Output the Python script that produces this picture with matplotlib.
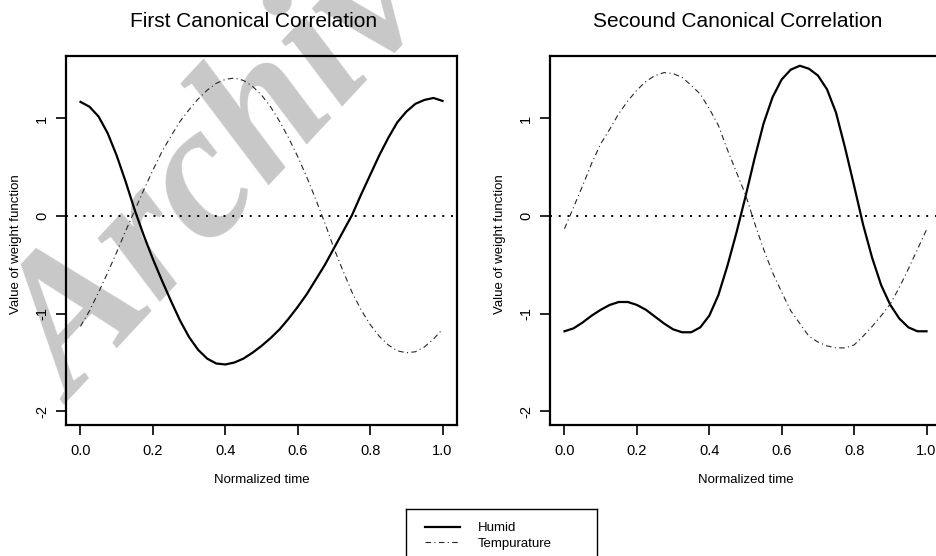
import numpy as np
import matplotlib
matplotlib.use('Agg')
import matplotlib.pyplot as plt

plt.rcParams['font.family'] = ['Liberation Sans', 'DejaVu Sans']
plt.rcParams['axes.unicode_minus'] = False

# normalized time grid (step 0.025)
t = np.linspace(0, 1, 41)

# first canonical correlation
humid1 = [1.17, 1.12, 1.02, 0.85, 0.62, 0.35, 0.06, -0.20, -0.44, -0.66,
          -0.87, -1.07, -1.24, -1.37, -1.46, -1.51, -1.52, -1.50, -1.46, -1.40,
          -1.33, -1.25, -1.16, -1.05, -0.93, -0.80, -0.65, -0.50, -0.33, -0.16,
          0.01, 0.22, 0.42, 0.62, 0.80, 0.96, 1.07, 1.15, 1.19, 1.21, 1.18]
temp1 = [-1.13, -0.97, -0.78, -0.58, -0.37, -0.15, 0.06, 0.27, 0.47, 0.66,
         0.82, 0.97, 1.09, 1.20, 1.29, 1.36, 1.40, 1.415, 1.39, 1.33,
         1.24, 1.12, 0.97, 0.80, 0.61, 0.40, 0.17, -0.07, -0.33, -0.56,
         -0.78, -0.96, -1.11, -1.23, -1.32, -1.38, -1.40, -1.39, -1.34, -1.26, -1.16]

# second canonical correlation
humid2 = [-1.18, -1.15, -1.09, -1.02, -0.96, -0.91, -0.88, -0.88, -0.91, -0.96,
          -1.03, -1.10, -1.16, -1.19, -1.19, -1.14, -1.02, -0.81, -0.51, -0.17,
          0.20, 0.59, 0.95, 1.22, 1.40, 1.50, 1.54, 1.51, 1.44, 1.30,
          1.06, 0.70, 0.31, -0.09, -0.43, -0.71, -0.91, -1.05, -1.14, -1.18, -1.18]
temp2 = [-0.13, 0.09, 0.31, 0.54, 0.74, 0.89, 1.05, 1.18, 1.29, 1.38,
         1.44, 1.47, 1.46, 1.42, 1.34, 1.25, 1.10, 0.93, 0.68, 0.45,
         0.22, -0.07, -0.34, -0.58, -0.78, -0.97, -1.10, -1.23, -1.29, -1.33,
         -1.35, -1.35, -1.32, -1.23, -1.13, -1.02, -0.90, -0.73, -0.54, -0.34, -0.14]

titles = ['First Canonical Correlation', 'Secound Canonical Correlation']
labels = ['Humid', 'Tempurature']
xticks = [0.0, 0.2, 0.4, 0.6, 0.8, 1.0]
yticks = [-2, -1, 0, 1]

fig = plt.figure(figsize=(9.37, 5.56), dpi=100)
fig.patch.set_facecolor('white')

# watermark
fig.text(74/937, 1 - 405/556, 'Archive', family='Liberation Serif', weight='bold',
         style='italic', fontsize=138, color='#c8c8c8', rotation=47,
         rotation_mode='anchor', ha='left', va='baseline', zorder=-1)

W, H = 391/937, 369/556
B = (556 - 425)/556
axes = [fig.add_axes([66/937, B, W, H]), fig.add_axes([550/937, B, W, H])]

for ax, title, hum, tmp in zip(axes, titles, [humid1, humid2], [temp1, temp2]):
    ax.set_facecolor('none')
    ax.plot(t, hum, color='black', lw=1.6, label=labels[0])
    ax.plot(t, tmp, color='0.15', lw=0.8, dashes=(5, 3, 1, 3), label=labels[1])
    ax.axhline(0, color='black', lw=1.4, ls=(0, (1, 3.5)))
    ax.set_xlim(-0.04, 1.04)
    ax.set_ylim(-2.14, 1.64)
    ax.set_xticks(xticks)
    ax.set_xticklabels(['%.1f' % v for v in xticks])
    ax.set_yticks(yticks)
    ax.set_yticklabels([str(v) for v in yticks], rotation=90, va='center')
    ax.tick_params(direction='out', length=7, width=1.2, labelsize=10.5)
    ax.tick_params(axis='x', pad=7)
    ax.tick_params(axis='y', pad=5)
    for s in ax.spines.values():
        s.set_linewidth(1.6)
    ax.set_title(title, fontsize=15, x=(254 - 66)/391, pad=21)
    ax.set_xlabel('Normalized time', fontsize=9.5, labelpad=11)
    ax.set_ylabel('Value of weight function', fontsize=9.5)
    ax.yaxis.label.set_va('center')
    ax.yaxis.set_label_coords(-(66 - 16)/391, 0.49)

# legend box
lax = fig.add_axes([406/937, -6/556, 191/937, 53/556])
lax.set_facecolor('white')
lax.set_xticks([])
lax.set_yticks([])
for s in lax.spines.values():
    s.set_linewidth(1.0)
lax.legend(axes[0].lines[:2], labels, loc='upper left',
           bbox_to_anchor=((425 - 406)/191, (562 - 522)/53), frameon=False,
           borderpad=0, borderaxespad=0, handlelength=35/13.2,
           handletextpad=18/13.2, labelspacing=0.25, fontsize=9.5)

fig.savefig('out.png', dpi=100)
